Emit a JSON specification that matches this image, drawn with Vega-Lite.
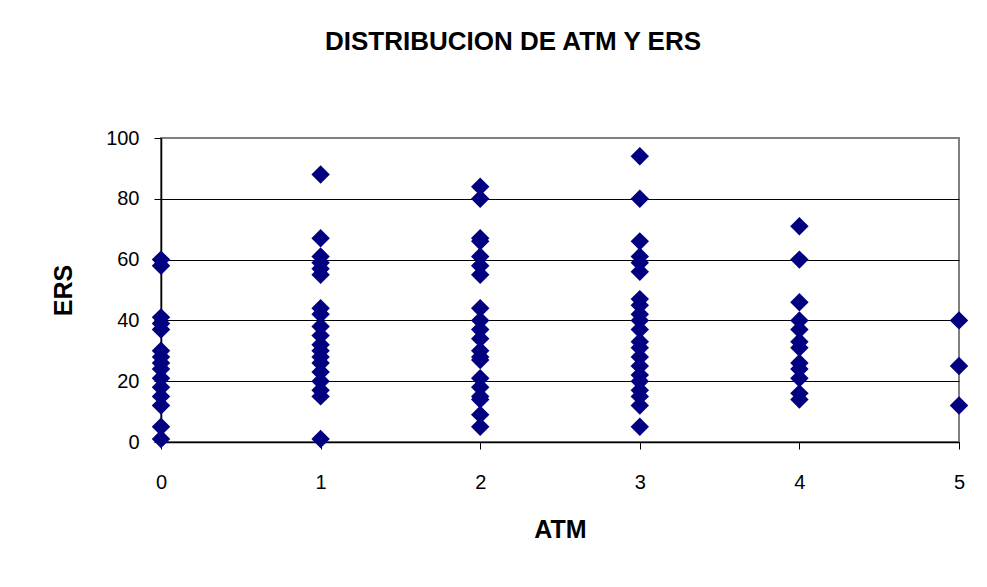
{
  "$schema": "https://vega.github.io/schema/vega-lite/v6.json",
  "width": 798,
  "height": 304,
  "autosize": {"type": "none"},
  "padding": {"left": 161, "top": 138, "right": 28, "bottom": 145},
  "background": "white",
  "title": {
    "text": "DISTRIBUCION DE ATM  Y ERS",
    "font": "Liberation Sans",
    "fontSize": 26,
    "fontWeight": "bold",
    "color": "black",
    "anchor": "middle",
    "frame": "group",
    "baseline": "alphabetic",
    "dx": -47,
    "offset": 52
  },
  "data": {
    "values": [
      {"ATM": 0, "ERS": 60}, {"ATM": 0, "ERS": 58}, {"ATM": 0, "ERS": 41}, {"ATM": 0, "ERS": 39},
      {"ATM": 0, "ERS": 37}, {"ATM": 0, "ERS": 30}, {"ATM": 0, "ERS": 28}, {"ATM": 0, "ERS": 26},
      {"ATM": 0, "ERS": 24}, {"ATM": 0, "ERS": 21}, {"ATM": 0, "ERS": 18}, {"ATM": 0, "ERS": 15},
      {"ATM": 0, "ERS": 12}, {"ATM": 0, "ERS": 5}, {"ATM": 0, "ERS": 1},
      {"ATM": 1, "ERS": 88}, {"ATM": 1, "ERS": 67}, {"ATM": 1, "ERS": 61}, {"ATM": 1, "ERS": 59},
      {"ATM": 1, "ERS": 57}, {"ATM": 1, "ERS": 55}, {"ATM": 1, "ERS": 44}, {"ATM": 1, "ERS": 42},
      {"ATM": 1, "ERS": 38}, {"ATM": 1, "ERS": 35}, {"ATM": 1, "ERS": 32}, {"ATM": 1, "ERS": 30},
      {"ATM": 1, "ERS": 28}, {"ATM": 1, "ERS": 26}, {"ATM": 1, "ERS": 23}, {"ATM": 1, "ERS": 20},
      {"ATM": 1, "ERS": 17}, {"ATM": 1, "ERS": 15}, {"ATM": 1, "ERS": 1},
      {"ATM": 2, "ERS": 84}, {"ATM": 2, "ERS": 80}, {"ATM": 2, "ERS": 67}, {"ATM": 2, "ERS": 66},
      {"ATM": 2, "ERS": 61}, {"ATM": 2, "ERS": 58}, {"ATM": 2, "ERS": 55}, {"ATM": 2, "ERS": 44},
      {"ATM": 2, "ERS": 40}, {"ATM": 2, "ERS": 37}, {"ATM": 2, "ERS": 34}, {"ATM": 2, "ERS": 30},
      {"ATM": 2, "ERS": 28}, {"ATM": 2, "ERS": 27}, {"ATM": 2, "ERS": 21}, {"ATM": 2, "ERS": 18},
      {"ATM": 2, "ERS": 15}, {"ATM": 2, "ERS": 14}, {"ATM": 2, "ERS": 9}, {"ATM": 2, "ERS": 5},
      {"ATM": 3, "ERS": 94}, {"ATM": 3, "ERS": 80}, {"ATM": 3, "ERS": 66}, {"ATM": 3, "ERS": 61},
      {"ATM": 3, "ERS": 59}, {"ATM": 3, "ERS": 56}, {"ATM": 3, "ERS": 47}, {"ATM": 3, "ERS": 45},
      {"ATM": 3, "ERS": 42}, {"ATM": 3, "ERS": 40}, {"ATM": 3, "ERS": 37}, {"ATM": 3, "ERS": 33},
      {"ATM": 3, "ERS": 31}, {"ATM": 3, "ERS": 28}, {"ATM": 3, "ERS": 25}, {"ATM": 3, "ERS": 22},
      {"ATM": 3, "ERS": 20}, {"ATM": 3, "ERS": 17}, {"ATM": 3, "ERS": 15}, {"ATM": 3, "ERS": 12},
      {"ATM": 3, "ERS": 5},
      {"ATM": 4, "ERS": 71}, {"ATM": 4, "ERS": 60}, {"ATM": 4, "ERS": 46}, {"ATM": 4, "ERS": 40},
      {"ATM": 4, "ERS": 37}, {"ATM": 4, "ERS": 33}, {"ATM": 4, "ERS": 31}, {"ATM": 4, "ERS": 26},
      {"ATM": 4, "ERS": 24}, {"ATM": 4, "ERS": 21}, {"ATM": 4, "ERS": 16}, {"ATM": 4, "ERS": 14},
      {"ATM": 5, "ERS": 40}, {"ATM": 5, "ERS": 25}, {"ATM": 5, "ERS": 12}
    ]
  },
  "mark": {"type": "point", "shape": "diamond", "filled": true, "color": "#000080", "opacity": 1, "size": 340, "clip": false},
  "encoding": {
    "x": {
      "field": "ATM", "type": "quantitative",
      "scale": {"domain": [0, 5], "nice": false, "zero": false},
      "axis": {
        "values": [0, 1, 2, 3, 4, 5], "format": "d", "grid": false, "labelFlush": false,
        "domainColor": "black", "domainWidth": 1.5, "tickColor": "black", "tickSize": 7,
        "labelFont": "Liberation Sans", "labelFontSize": 20, "labelColor": "black",
        "labelBaseline": "alphabetic", "labelPadding": 39,
        "title": "ATM", "titleFont": "Liberation Sans", "titleFontSize": 25, "titleFontWeight": "bold",
        "titleColor": "black", "titleBaseline": "alphabetic", "titlePadding": 45
      }
    },
    "y": {
      "field": "ERS", "type": "quantitative",
      "scale": {"domain": [0, 100], "nice": false},
      "axis": {
        "values": [0, 20, 40, 60, 80, 100], "grid": true, "labelFlush": false,
        "gridColor": {"condition": {"test": "datum.value == 100 || datum.value == 0", "value": "#808080"}, "value": "black"},
        "gridWidth": 1, "gridOpacity": 1,
        "domainColor": "black", "domainWidth": 1.5, "tickColor": "black", "tickSize": 7,
        "labelFont": "Liberation Sans", "labelFontSize": 20, "labelColor": "black", "labelPadding": 15,
        "title": "ERS", "titleFont": "Liberation Sans", "titleFontSize": 25, "titleFontWeight": "bold",
        "titleColor": "black", "titleBaseline": "alphabetic", "titlePadding": 34
      }
    }
  },
  "config": {
    "view": {"stroke": "#808080", "strokeWidth": 2}
  }
}
